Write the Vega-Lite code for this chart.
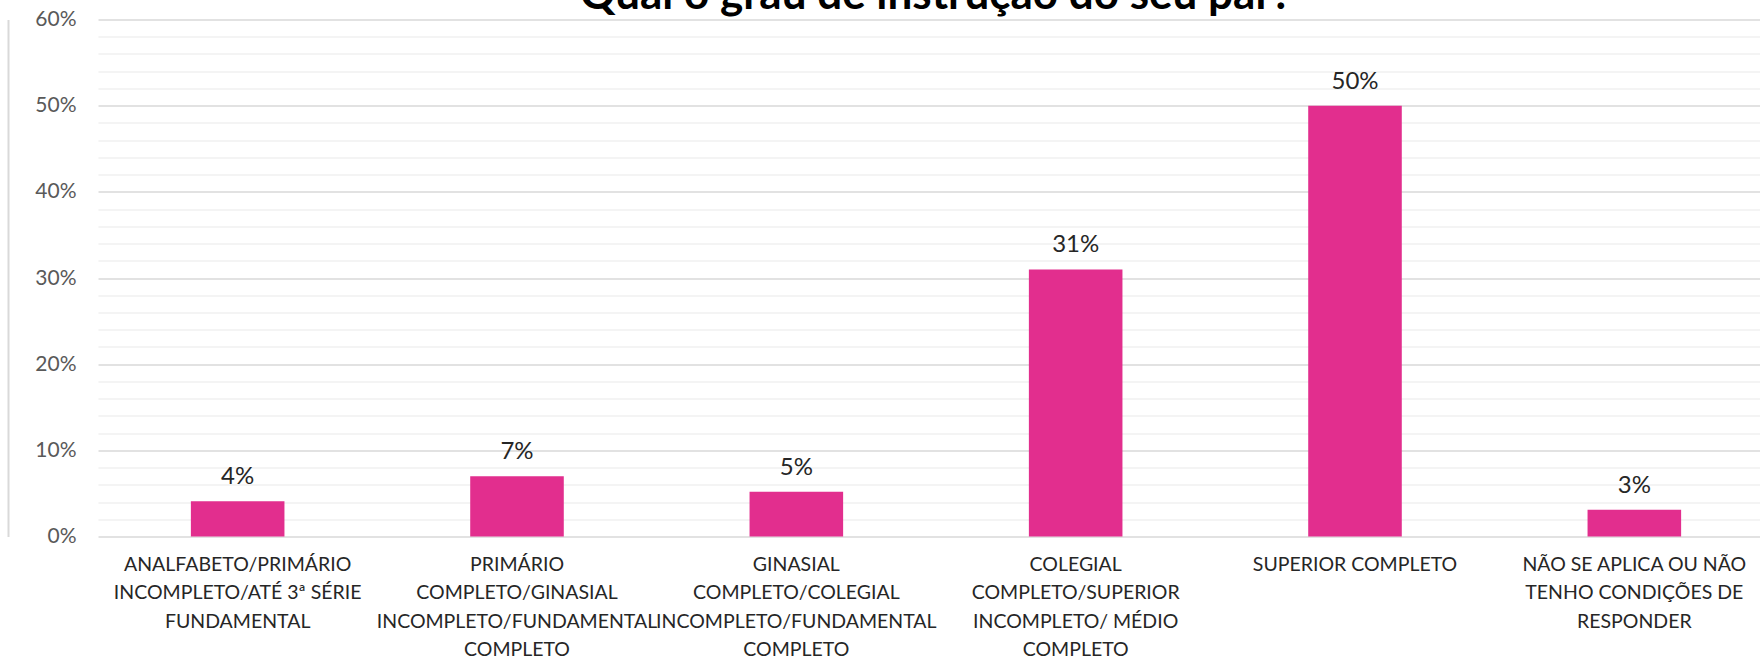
{
  "$schema": "https://vega.github.io/schema/vega-lite/v6.json",
  "autosize": {"type": "none"},
  "padding": {"left": 98, "top": 19.5, "right": 0, "bottom": 123.5},
  "width": 1662,
  "height": 517,
  "background": "#ffffff",
  "title": {
    "text": "Qual o grau de instrução do seu par?",
    "font": "Lato",
    "fontSize": 44,
    "fontWeight": "bold",
    "color": "#000000",
    "anchor": "middle",
    "baseline": "alphabetic",
    "offset": -44,
    "dx": 7
  },
  "data": {
    "values": [
      {"cat": "ANALFABETO/PRIMÁRIO|INCOMPLETO/ATÉ 3ª SÉRIE|FUNDAMENTAL", "pct": 0.041},
      {"cat": "PRIMÁRIO|COMPLETO/GINASIAL|INCOMPLETO/FUNDAMENTAL|COMPLETO", "pct": 0.07},
      {"cat": "GINASIAL|COMPLETO/COLEGIAL|INCOMPLETO/FUNDAMENTAL|COMPLETO", "pct": 0.052},
      {"cat": "COLEGIAL|COMPLETO/SUPERIOR|INCOMPLETO/ MÉDIO|COMPLETO", "pct": 0.31},
      {"cat": "SUPERIOR COMPLETO", "pct": 0.5},
      {"cat": "NÃO SE APLICA OU NÃO|TENHO CONDIÇÕES DE|RESPONDER", "pct": 0.031}
    ]
  },
  "encoding": {
    "x": {
      "field": "cat",
      "type": "nominal",
      "sort": null,
      "scale": {"range": [0, 1676], "paddingInner": 0.665, "paddingOuter": 0.3325},
      "axis": {
        "title": null,
        "domain": false,
        "ticks": false,
        "labelAngle": 0,
        "labelExpr": "split(datum.label, '|')",
        "labelFont": "Lato",
        "labelFontSize": 19.5,
        "labelColor": "#262626",
        "labelLineHeight": 28.3,
        "labelBaseline": "top",
        "labelPadding": 19,
        "labelOverlap": false,
        "labelLimit": 400
      }
    }
  },
  "layer": [
    {
      "mark": {"type": "bar", "color": "#E22E8E"},
      "encoding": {
        "y": {
          "field": "pct",
          "type": "quantitative",
          "scale": {"domain": [0, 0.6], "nice": false},
          "axis": {
            "title": null,
            "domain": false,
            "ticks": false,
            "values": [0, 0.02, 0.04, 0.06, 0.08, 0.1, 0.12, 0.14, 0.16, 0.18, 0.2, 0.22, 0.24, 0.26, 0.28, 0.3, 0.32, 0.34, 0.36, 0.38, 0.4, 0.42, 0.44, 0.46, 0.48, 0.5, 0.52, 0.54, 0.56, 0.58, 0.6],
            "format": ".0%",
            "labelExpr": "round(datum.value*100) % 10 === 0 ? datum.label : ''",
            "labelFont": "Lato",
            "labelFontSize": 21,
            "labelColor": "#595959",
            "labelPadding": 22,
            "labelOverlap": false,
            "labelFlush": false,
            "gridColor": {"condition": {"test": "round(datum.value*100) % 10 === 0", "value": "#D9D9D9"}, "value": "#F0F0F0"},
            "gridWidth": 1.3
          }
        }
      }
    },
    {
      "mark": {"type": "text", "font": "Lato", "fontSize": 24, "color": "#262626", "baseline": "alphabetic", "dy": -17},
      "encoding": {
        "y": {
          "field": "pct",
          "type": "quantitative",
          "axis": {
            "orient": "left",
            "offset": 90,
            "title": null,
            "domain": true,
            "domainColor": "#D9D9D9",
            "domainWidth": 2,
            "ticks": false,
            "labels": false,
            "grid": false
          }
        },
        "text": {"field": "pct", "type": "quantitative", "format": ".0%"}
      }
    }
  ],
  "resolve": {"axis": {"y": "independent"}},
  "config": {"view": {"stroke": null}}
}
